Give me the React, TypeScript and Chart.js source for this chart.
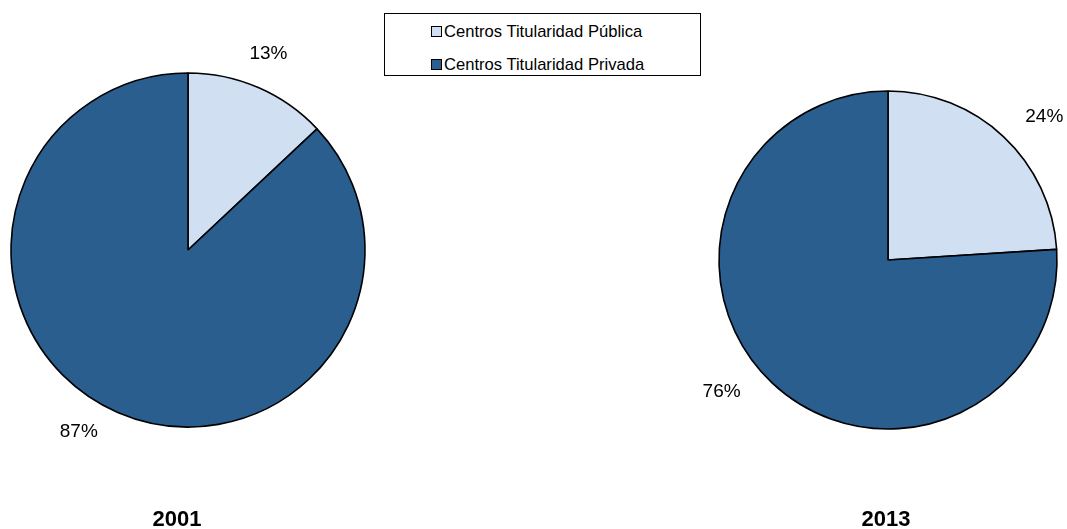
import React, { useEffect, useRef } from "react";
import { Chart, registerables } from "chart.js";

Chart.register(...registerables);

const categories = ["Centros Titularidad Pública", "Centros Titularidad Privada"];
const years = ["2001", "2013"];
const values2001 = [13, 87];
const values2013 = [24, 76];
const colors = ["#D0E0F2", "#295E8F"];

const FONT = '"Liberation Sans", Arial, sans-serif';

const labelPlugin = {
  id: "outsideLabels",
  afterDatasetsDraw(chart: any, _args: any, opts: any) {
    const ctx = chart.ctx;
    const meta = chart.getDatasetMeta(0);
    const data = chart.data.datasets[0].data as number[];
    const total = data.reduce((a, b) => a + b, 0);
    ctx.save();
    ctx.font = `19px ${FONT}`;
    ctx.fillStyle = "#000";
    ctx.textAlign = "center";
    ctx.textBaseline = "middle";
    meta.data.forEach((arc: any, i: number) => {
      const p = arc.getProps(["x", "y", "startAngle", "endAngle", "outerRadius"], true);
      const shift = ((opts.angleShift?.[i] ?? 0) * Math.PI) / 180;
      const mid = (p.startAngle + p.endAngle) / 2 + shift;
      const d = p.outerRadius + (opts.offset ?? 35);
      const x = p.x + Math.cos(mid) * d;
      const y = p.y + Math.sin(mid) * d;
      ctx.fillText(Math.round((data[i] / total) * 100) + "%", x, y);
    });
    ctx.restore();
  },
};

function PieChart(props: {
  values: number[];
  radius: number;
  padding: any;
  offset: number;
  angleShift: number[];
  width: number;
  height: number;
}) {
  const ref = useRef<HTMLCanvasElement>(null);
  useEffect(() => {
    if (!ref.current) return;
    const chart = new Chart(ref.current, {
      type: "pie",
      data: {
        labels: categories,
        datasets: [
          {
            data: props.values,
            backgroundColor: colors,
            borderColor: "#000",
            borderWidth: 1.6,
            hoverOffset: 0,
            radius: props.radius,
          } as any,
        ],
      },
      options: {
        animation: false,
        responsive: false,
        events: [],
        layout: { padding: props.padding },
        plugins: {
          legend: { display: false },
          tooltip: { enabled: false },
          outsideLabels: { offset: props.offset, angleShift: props.angleShift },
        } as any,
      },
      plugins: [labelPlugin],
    });
    return () => chart.destroy();
  }, []);
  return (
    <canvas
      ref={ref}
      width={props.width}
      height={props.height}
      style={{ width: props.width, height: props.height, display: "block" }}
    />
  );
}

export default function App() {
  const legendRow = (label: string, color: string, top: number) => (
    <div
      style={{
        position: "absolute",
        left: 46,
        top,
        height: 17,
        lineHeight: "17px",
        fontSize: 16.6,
        fontFamily: FONT,
        color: "#000",
        whiteSpace: "nowrap",
        display: "flex",
        alignItems: "center",
      }}
    >
      <span
        style={{
          display: "inline-block",
          width: 9,
          height: 9,
          border: "1px solid #000",
          background: color,
          marginRight: 2,
        }}
      />
      <span>{label}</span>
    </div>
  );
  return (
    <div style={{ position: "fixed", left: 0, top: 0, width: 1067, height: 529, background: "#fff", overflow: "hidden" }}>
      <div style={{ position: "absolute", left: 0, top: 0, width: 376, height: 529 }}>
        <PieChart
          values={values2001}
          radius={177}
          width={376}
          height={529}
          padding={{ top: 0, bottom: 29, left: 0, right: 0 }}
          offset={35}
          angleShift={[-1.1, 7.6]}
        />
      </div>
      <div style={{ position: "absolute", left: 700, top: 0, width: 366, height: 529 }}>
        <PieChart
          values={values2013}
          radius={169}
          width={366}
          height={529}
          padding={{ top: 0, bottom: 9, left: 10, right: 0 }}
          offset={43}
          angleShift={[4.3, 8.5]}
        />
      </div>
      <div
        style={{
          position: "absolute",
          left: 384,
          top: 13,
          width: 315,
          height: 61,
          border: "1px solid #000",
          background: "#fff",
        }}
      >
        {legendRow(categories[0], colors[0], 9)}
        {legendRow(categories[1], colors[1], 42)}
      </div>
      <div style={{ position: "absolute", left: 127, top: 508, width: 100, textAlign: "center", fontFamily: FONT, fontWeight: "bold", fontSize: 22, lineHeight: "22px" }}>
        {years[0]}
      </div>
      <div style={{ position: "absolute", left: 836, top: 508, width: 100, textAlign: "center", fontFamily: FONT, fontWeight: "bold", fontSize: 22, lineHeight: "22px" }}>
        {years[1]}
      </div>
    </div>
  );
}
